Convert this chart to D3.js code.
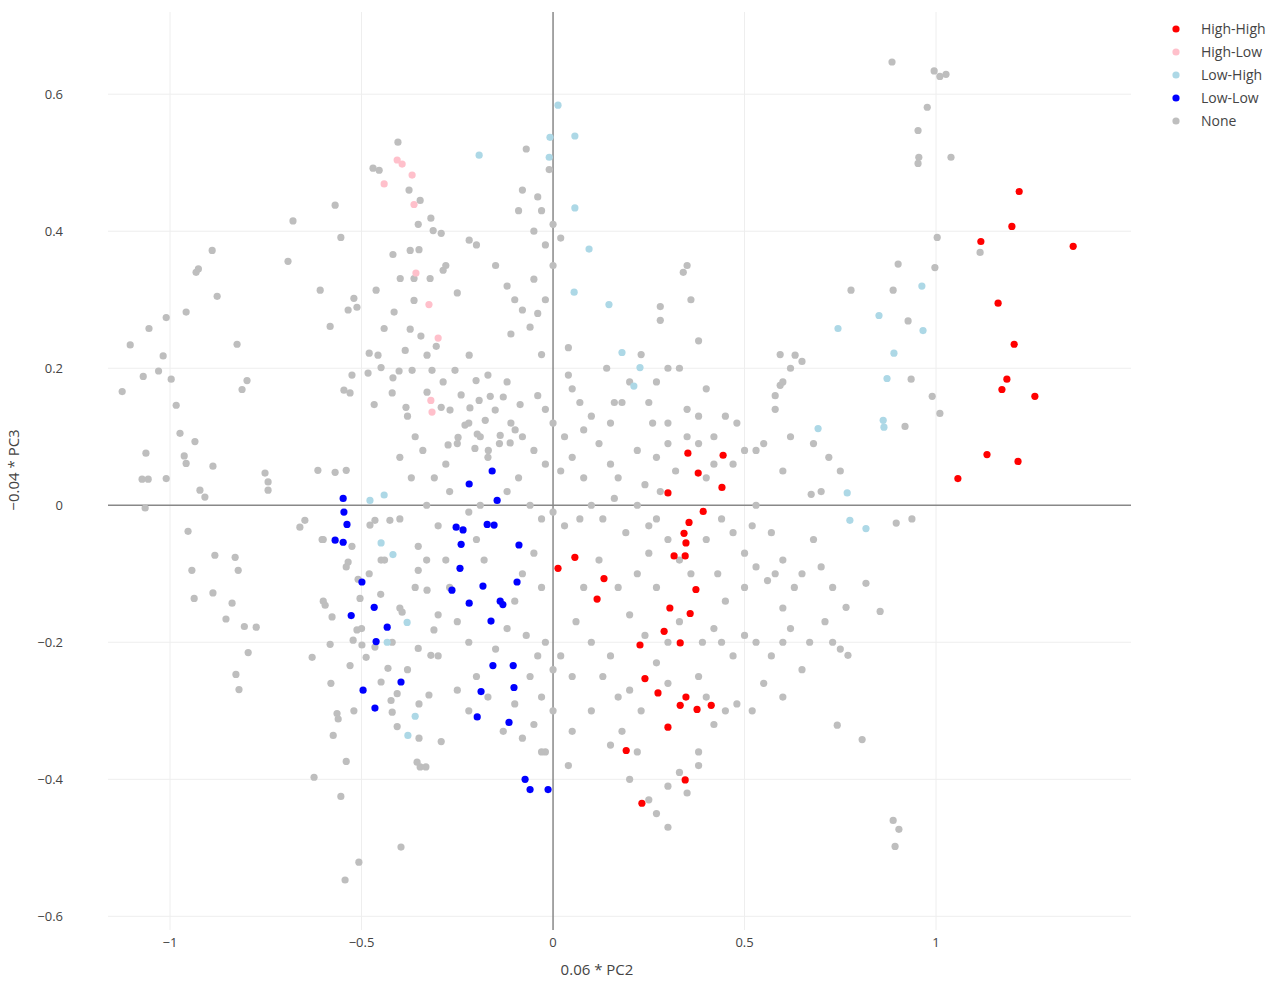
<!DOCTYPE html>
<html><head><meta charset="utf-8">
<script src="https://cdn.jsdelivr.net/npm/d3@7"></script>
<style>body{margin:0;background:#fff}text{font-family:"Open Sans",sans-serif}</style>
</head><body><svg id="c" width="1280" height="983"></svg>
<script>
const categories=["High-High","High-Low","Low-High","Low-Low","None"];
const colors=["#ff0000","#ffc0cb","#add8e6","#0000ff","#bebebe"];
const xTicks=[-1,-0.5,0,0.5,1];
const yTicks=[-0.6,-0.4,-0.2,0,0.2,0.4,0.6];
const highHigh=[[1.217,0.458],[1.117,0.385],[1.198,0.407],[1.358,0.378],[1.162,0.295],[1.204,0.235],[1.185,0.184],[1.172,0.169],[1.258,0.159],[1.133,0.074],[1.214,0.064],[1.057,0.039],[0.352,0.076],[0.444,0.073],[0.379,0.047],[0.441,0.026],[0.300,0.018],[0.392,-0.009],[0.355,-0.025],[0.342,-0.041],[0.347,-0.055],[0.316,-0.074],[0.345,-0.074],[0.013,-0.092],[0.057,-0.076],[0.133,-0.107],[0.115,-0.137],[0.373,-0.123],[0.305,-0.150],[0.358,-0.158],[0.290,-0.184],[0.227,-0.204],[0.240,-0.253],[0.274,-0.274],[0.347,-0.280],[0.332,-0.292],[0.300,-0.324],[0.413,-0.292],[0.376,-0.298],[0.191,-0.358],[0.345,-0.401],[0.232,-0.435],[0.332,-0.201]];
const highLow=[[-0.407,0.504],[-0.394,0.498],[-0.368,0.482],[-0.441,0.469],[-0.363,0.439],[-0.358,0.339],[-0.324,0.293],[-0.300,0.244],[-0.319,0.153],[-0.316,0.136]];
const lowHigh=[[0.013,0.584],[-0.008,0.537],[-0.010,0.508],[0.057,0.539],[0.057,0.434],[-0.193,0.511],[0.094,0.374],[0.055,0.311],[0.146,0.293],[0.180,0.223],[0.211,0.174],[0.227,0.201],[0.744,0.258],[0.851,0.277],[0.890,0.222],[0.872,0.185],[0.963,0.320],[0.966,0.255],[0.862,0.124],[0.864,0.114],[0.692,0.112],[0.768,0.018],[0.775,-0.022],[0.817,-0.034],[-0.478,0.007],[-0.441,0.015],[-0.449,-0.055],[-0.418,-0.072],[-0.381,-0.171],[-0.433,-0.200],[-0.360,-0.308],[-0.379,-0.336]];
const lowLow=[[-0.548,0.010],[-0.546,-0.010],[-0.538,-0.028],[-0.569,-0.051],[-0.548,-0.054],[-0.499,-0.112],[-0.527,-0.161],[-0.467,-0.149],[-0.433,-0.178],[-0.462,-0.199],[-0.496,-0.270],[-0.397,-0.258],[-0.465,-0.296],[-0.159,0.050],[-0.219,0.031],[-0.146,0.007],[-0.253,-0.032],[-0.235,-0.036],[-0.240,-0.057],[-0.172,-0.028],[-0.154,-0.029],[-0.089,-0.058],[-0.243,-0.092],[-0.264,-0.124],[-0.219,-0.143],[-0.183,-0.118],[-0.138,-0.140],[-0.131,-0.145],[-0.162,-0.169],[-0.094,-0.112],[-0.157,-0.234],[-0.104,-0.234],[-0.188,-0.272],[-0.102,-0.266],[-0.198,-0.309],[-0.115,-0.317],[-0.073,-0.400],[-0.060,-0.415],[-0.013,-0.415]];
const none=[[0.885,0.647],[0.995,0.634],[1.010,0.626],[1.026,0.629],[0.977,0.581],[0.953,0.547],[0.955,0.508],[0.953,0.499],[1.039,0.508],[1.003,0.391],[0.901,0.352],[0.997,0.347],[1.115,0.369],[0.888,0.314],[0.927,0.269],[0.778,0.314],[0.935,0.184],[0.990,0.159],[1.010,0.134],[0.919,0.115],[0.937,-0.020],[0.896,-0.026],[0.817,-0.114],[0.854,-0.155],[0.765,-0.149],[0.770,-0.219],[0.742,-0.321],[0.807,-0.342],[0.888,-0.460],[0.903,-0.473],[0.893,-0.498],[0.674,0.016],[0.632,0.219],[0.593,0.220],[0.593,0.175],[0.58,0.14],
[-1.125,0.166],[-1.104,0.234],[-1.07,0.188],[-1.055,0.258],[-1.03,0.196],[-1.018,0.218],[-1.01,0.274],[-0.997,0.184],[-0.984,0.146],[-0.974,0.105],[-0.963,0.072],[-0.958,0.061],[-0.958,0.282],[-0.932,0.340],[-0.926,0.345],[-0.890,0.372],[-0.877,0.305],[-0.935,0.093],[-0.922,0.022],[-0.909,0.012],[-0.888,0.057],[-0.883,-0.073],[-0.953,-0.038],[-0.937,-0.136],[-0.943,-0.095],[-0.888,-0.128],[-0.830,-0.076],[-0.822,-0.095],[-0.838,-0.143],[-0.854,-0.166],[-0.828,-0.247],[-0.820,-0.269],[-0.796,-0.215],[-0.775,-0.178],[-0.806,-0.177],[-0.825,0.235],[-0.812,0.169],[-0.799,0.182],[-0.744,0.034],[-0.744,0.022],[-0.752,0.047],[-1.057,0.038],[-1.073,0.038],[-1.065,-0.004],[-1.010,0.039],[-1.063,0.076],[-0.679,0.415],[-0.692,0.356],[-0.608,0.314],[-0.569,0.438],[-0.554,0.391],[-0.582,0.261],[-0.648,-0.022],[-0.661,-0.032],[-0.603,-0.050],[-0.614,0.051],[-0.569,0.048],[-0.540,0.051],[-0.629,-0.222],[-0.595,-0.146],[-0.582,-0.203],[-0.577,-0.163],[-0.564,-0.304],[-0.561,-0.312],[-0.574,-0.336],[-0.624,-0.397],[-0.554,-0.425],[-0.540,-0.374],[-0.543,-0.547],[-0.507,-0.521],[-0.525,-0.060],[-0.509,-0.108],[-0.504,-0.136],[-0.535,-0.083],[-0.512,-0.182],[-0.522,-0.197],[-0.499,-0.204],[-0.530,-0.234],[-0.488,-0.222],[-0.465,-0.207],[-0.449,-0.258],[-0.431,-0.238],[-0.423,-0.285],[-0.420,-0.302],[-0.407,-0.323],[-0.397,-0.499],[-0.347,-0.382],[-0.332,-0.382],[-0.355,-0.375],[-0.407,-0.275],[-0.394,-0.156],[-0.449,-0.080],[-0.478,-0.029],[-0.465,-0.022],[-0.426,-0.022],[-0.400,-0.020],[-0.352,-0.060],[-0.352,-0.095],[-0.329,-0.124],[-0.311,-0.182],[-0.319,-0.219],[-0.352,-0.209],[-0.324,-0.277],[-0.292,-0.345],[-0.350,-0.340],
[-0.405,0.530],[-0.470,0.492],[-0.454,0.489],[-0.376,0.460],[-0.347,0.445],[-0.319,0.419],[-0.313,0.401],[-0.292,0.397],[-0.352,0.410],[-0.373,0.372],[-0.350,0.373],[-0.418,0.366],[-0.399,0.331],[-0.363,0.331],[-0.321,0.331],[-0.287,0.343],[-0.219,0.387],[-0.363,0.299],[-0.415,0.282],[-0.462,0.314],[-0.520,0.302],[-0.535,0.285],[-0.512,0.289],[-0.441,0.258],[-0.373,0.257],[-0.345,0.247],[-0.305,0.232],[-0.386,0.226],[-0.480,0.222],[-0.457,0.219],[-0.525,0.190],[-0.483,0.193],[-0.449,0.201],[-0.402,0.196],[-0.368,0.197],[-0.418,0.186],[-0.329,0.219],[-0.316,0.197],[-0.287,0.180],[-0.256,0.197],[-0.219,0.219],[-0.201,0.182],[-0.170,0.190],[-0.546,0.168],[-0.530,0.164],[-0.467,0.147],[-0.420,0.164],[-0.384,0.143],[-0.329,0.165],[-0.292,0.143],[-0.269,0.139],[-0.240,0.161],[-0.217,0.142],[-0.193,0.153],[-0.164,0.159],[-0.230,0.117],[-0.198,0.104],[-0.177,0.124],[-0.151,0.139],[-0.130,0.158],[-0.120,0.180],[-0.086,0.147],[-0.099,0.110],[-0.112,0.091],[-0.138,0.102],[-0.169,0.080],[-0.204,0.083],[-0.248,0.099],[-0.274,0.088],
[-0.07,0.52],[-0.08,0.46],[-0.04,0.45],[-0.03,0.43],[-0.09,0.43],[-0.05,0.40],[-0.02,0.38],[0.0,0.35],[-0.05,0.33],[-0.02,0.30],[-0.08,0.285],[-0.1,0.30],[-0.04,0.28],[-0.01,0.49],[0.0,0.41],[0.02,0.39],[-0.2,0.38],[-0.15,0.35],[-0.12,0.32],[-0.25,0.31],[-0.28,0.35],[-0.11,0.25],[-0.06,0.26],[-0.03,0.22],[0.04,0.23],[0.05,0.17],[-0.04,0.16],[-0.02,0.14],[0.0,0.12],[0.03,0.10],[0.08,0.11],[0.1,0.13],[0.12,0.09],[0.15,0.06],[0.17,0.04],[0.08,0.04],[0.05,0.07],[0.02,0.05],[-0.02,0.06],[-0.05,0.08],[-0.08,0.1],[-0.11,0.12],[-0.14,0.09],[-0.17,0.07],[-0.19,0.10],[-0.22,0.12],[-0.25,0.09],[-0.28,0.06],[-0.31,0.04],[-0.34,0.08],[-0.36,0.1],[-0.38,0.13],[-0.4,0.07],[-0.37,0.04],[-0.33,0.0],[-0.3,-0.03],[-0.27,0.02],[-0.22,-0.01],[-0.19,0.0],[-0.12,0.02],[-0.09,0.04],[-0.06,0.0],[-0.03,-0.02],[0.0,-0.01],[0.03,-0.03],[0.07,-0.02],[0.1,0.0],[0.13,-0.02],[0.16,0.01],[0.19,-0.04],[0.22,0.0],[0.25,-0.03],[0.28,0.02],
[0.28,0.29],[0.35,0.35],[0.34,0.34],[0.36,0.3],[0.28,0.27],[0.23,0.22],[0.3,0.2],[0.27,0.18],[0.33,0.2],[0.38,0.24],[0.4,0.17],[0.45,0.13],[0.48,0.12],[0.5,0.08],[0.42,0.1],[0.38,0.13],[0.35,0.14],[0.3,0.12],[0.25,0.15],[0.2,0.18],[0.18,0.15],[0.15,0.12],[0.22,0.08],[0.27,0.07],[0.32,0.05],[0.4,0.04],[0.47,0.06],[0.53,0.08],[0.55,0.09],[0.6,0.05],[0.62,0.1],[0.58,0.16],[0.62,0.2],[0.65,0.21],[0.6,0.18],[0.53,0.0],[0.52,-0.03],[0.5,-0.07],[0.47,-0.04],[0.44,-0.02],[0.4,-0.05],[0.43,-0.1],[0.45,-0.14],[0.5,-0.12],[0.53,-0.09],[0.56,-0.11],[0.58,-0.1],[0.6,-0.15],[0.63,-0.12],[0.65,-0.1],[0.62,-0.18],[0.6,-0.2],[0.57,-0.22],[0.53,-0.2],[0.5,-0.19],[0.47,-0.22],[0.44,-0.2],[0.42,-0.18],[0.39,-0.2],[0.38,-0.25],[0.4,-0.28],[0.45,-0.3],[0.48,-0.29],[0.42,-0.32],[0.38,-0.36],[0.33,-0.39],[0.3,-0.41],[0.27,-0.45],[0.3,-0.47],[0.25,-0.43],[0.2,-0.4],[0.15,-0.35],[0.1,-0.3],[0.13,-0.25],[0.17,-0.28],[0.15,-0.22],[0.1,-0.2],[0.06,-0.17],[0.08,-0.12],[0.12,-0.08],[0.17,-0.12],[0.2,-0.16],[0.22,-0.1],[0.25,-0.07],[0.27,-0.12],[0.24,-0.19],[0.27,-0.23],[0.3,-0.26],[0.23,-0.3],[0.2,-0.27],[0.02,-0.22],[-0.02,-0.2],[0.0,-0.24],[0.05,-0.25],[0.05,-0.33],[0.0,-0.3],[-0.02,-0.36],[0.04,-0.38],[-0.03,-0.28],[0.18,-0.33],[0.22,-0.36],[0.3,-0.2],[0.33,-0.17],[0.36,-0.1],[0.33,-0.08],[0.3,-0.05],[0.27,-0.02],[0.24,0.03],[0.3,0.09],[0.35,0.1],[0.38,0.09],[0.42,0.06],[0.26,0.12],[0.16,0.15],[0.14,0.2],[0.04,0.19],[0.07,0.15],[0.68,0.09],[0.72,0.07],[0.75,0.05],[0.7,0.02],[0.68,-0.05],[0.7,-0.09],[0.73,-0.12],[0.71,-0.17],[0.67,-0.2],[0.65,-0.24],[0.6,-0.28],[0.55,-0.26],[0.52,-0.3],[0.73,-0.2],[0.75,-0.21],[0.6,-0.08],[0.57,-0.04],[0.35,-0.42],[0.38,-0.38],
[-0.6,-0.05],[-0.48,-0.1],[-0.45,-0.13],[-0.42,-0.2],[-0.38,-0.24],[-0.35,-0.29],[-0.3,-0.22],[-0.27,-0.12],[-0.25,-0.17],[-0.22,-0.2],[-0.2,-0.25],[-0.25,-0.27],[-0.22,-0.3],[-0.17,-0.28],[-0.15,-0.21],[-0.12,-0.18],[-0.1,-0.14],[-0.08,-0.1],[-0.05,-0.07],[-0.03,-0.12],[-0.07,-0.19],[-0.04,-0.22],[-0.06,-0.25],[-0.1,-0.29],[-0.13,-0.33],[-0.08,-0.34],[-0.05,-0.32],[-0.03,-0.36],[-0.18,-0.08],[-0.2,-0.05],[-0.28,-0.08],[-0.3,-0.16],[-0.33,-0.08],[-0.36,-0.12],[-0.4,-0.15],[-0.44,-0.08],[-0.5,-0.18],[-0.54,-0.09],[-0.6,-0.14],[-0.58,-0.26],[-0.52,-0.3]];
const series=[highHigh,highLow,lowHigh,lowLow,none];

const svg=d3.select("#c");
const L=108,R=1131,T=12,B=930;
const x=d3.scaleLinear().domain([-1.162,1.509]).range([L,R]);
const y=d3.scaleLinear().domain([-0.62,0.72]).range([B,T]);
const g=svg.append("g");
g.selectAll(".vg").data(xTicks.filter(d=>d!==0)).join("line").attr("x1",d=>x(d)).attr("x2",d=>x(d)).attr("y1",T).attr("y2",B).attr("stroke","#eeeeee");
g.selectAll(".hg").data(yTicks.filter(d=>d!==0)).join("line").attr("y1",d=>y(d)).attr("y2",d=>y(d)).attr("x1",L).attr("x2",R).attr("stroke","#eeeeee");
g.append("line").attr("x1",x(0)).attr("x2",x(0)).attr("y1",T).attr("y2",B).attr("stroke","#888").attr("stroke-width",1.5);
g.append("line").attr("y1",y(0)).attr("y2",y(0)).attr("x1",L).attr("x2",R).attr("stroke","#888").attr("stroke-width",1.5);
const fmt=d=>d<0?"\u2212"+Math.abs(d):String(d);
svg.selectAll(".xt").data(xTicks).join("text").attr("x",d=>x(d)).attr("y",B+17).attr("text-anchor","middle").attr("font-size",13).attr("fill","#444").text(fmt);
svg.selectAll(".yt").data(yTicks).join("text").attr("x",L-45).attr("y",d=>y(d)+5).attr("text-anchor","end").attr("font-size",13).attr("fill","#444").text(fmt);
svg.append("text").attr("x",597).attr("y",975).attr("text-anchor","middle").attr("font-size",15).attr("fill","#444").text("0.06 * PC2");
svg.append("text").attr("transform","translate(19,470) rotate(-90)").attr("text-anchor","middle").attr("font-size",15).attr("fill","#444").text("\u22120.04 * PC3");
[4,1,2,3,0].forEach(i=>{
  g.selectAll(".p"+i).data(series[i]).join("circle").attr("cx",d=>x(d[0])).attr("cy",d=>y(d[1])).attr("r",3.6).attr("fill",colors[i]);
});
const lg=svg.append("g").attr("transform","translate(1176,29)");
categories.forEach((c,i)=>{
  lg.append("circle").attr("cx",0).attr("cy",i*23).attr("r",3.6).attr("fill",colors[i]);
  lg.append("text").attr("x",25).attr("y",i*23+5).attr("font-size",14).attr("fill","#444").text(c);
});
</script></body></html>
